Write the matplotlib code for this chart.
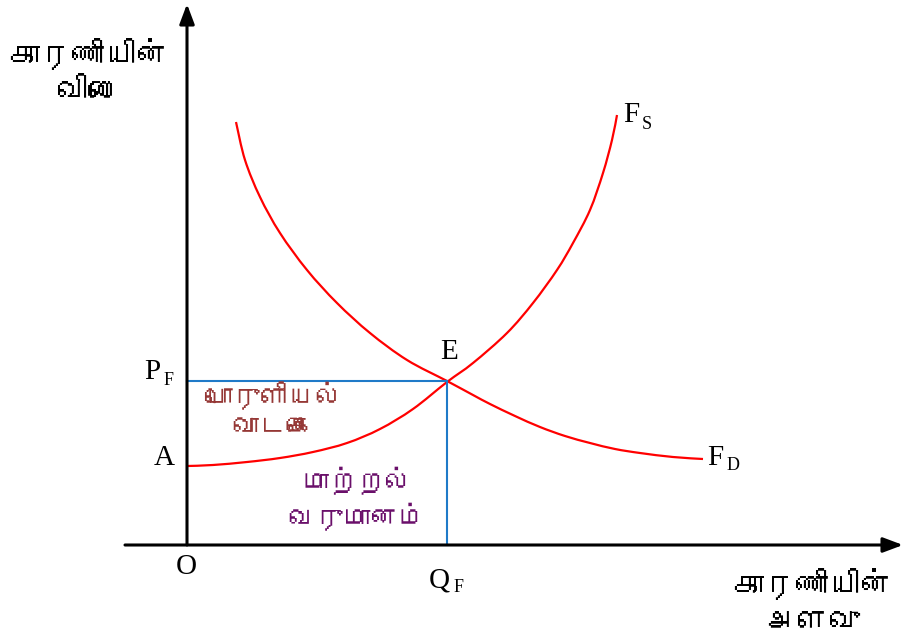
import matplotlib
matplotlib.use('Agg')
import matplotlib.pyplot as plt
from matplotlib import font_manager
from matplotlib.ft2font import FT2Font
from matplotlib.path import Path
from matplotlib.patches import PathPatch

# Factor market diagram (origin O = (0, 0))
supply_x = [0, 26, 60, 93, 126, 160, 193, 226, 260, 286, 320, 346, 370, 386, 403, 416, 425, 430]
supply_y = [79, 80, 83, 87, 93, 102, 116, 136, 163, 182, 212, 242, 275, 302, 335, 372, 405, 430]
demand_x = [49, 58, 73, 93, 120, 150, 183, 220, 260, 286, 303, 328, 353, 378, 403, 428, 453, 486, 516]
demand_y = [423, 385, 348, 312, 275, 242, 212, 185, 164, 150, 141, 129, 118, 109, 102, 96, 92, 88, 86]
eq_q, eq_p = 260, 164       # point E
a_price = 79                # point A

y_title = ['காரணியின்', 'விலை']
x_title = ['காரணியின்', 'அளவு']
rent_text = ['பொருளியல்', 'வாடகை']
transfer_text = ['மாற்றல்', 'வருமானம்']


def find_tamil_font():
    # pick any installed font that has Tamil glyphs
    for f in font_manager.fontManager.ttflist:
        try:
            if 0x0B95 in FT2Font(f.fname).get_charmap():
                return f.name
        except Exception:
            pass
    return 'DejaVu Sans'


def smooth_path(xs, ys):
    # smooth line through the read points (Catmull-Rom as cubic Bezier)
    pts = list(zip(xs, ys))
    verts = [pts[0]]
    codes = [Path.MOVETO]
    for i in range(len(pts) - 1):
        p0 = pts[max(i - 1, 0)]
        p1, p2 = pts[i], pts[i + 1]
        p3 = pts[min(i + 2, len(pts) - 1)]
        c1 = (p1[0] + (p2[0] - p0[0]) / 6, p1[1] + (p2[1] - p0[1]) / 6)
        c2 = (p2[0] - (p3[0] - p1[0]) / 6, p2[1] - (p3[1] - p1[1]) / 6)
        verts += [c1, c2, p2]
        codes += [Path.CURVE4] * 3
    return Path(verts, codes)


tamil = [find_tamil_font(), 'DejaVu Sans']
serif = 'Liberation Serif'

fig = plt.figure(figsize=(9.03, 6.44), dpi=100)
ax = fig.add_axes([0, 0, 1, 1])
ax.set_xlim(-187, 716)
ax.set_ylim(-99, 545)
ax.axis('off')

# axes with arrow heads
arrow = dict(arrowstyle='-|>,head_length=1.2,head_width=0.45', lw=2.2, color='black',
             shrinkA=0, shrinkB=0)
ax.annotate('', xy=(716, 0), xytext=(-62, 0), arrowprops=arrow)
ax.annotate('', xy=(0, 541), xytext=(0, 0), arrowprops=arrow)

# blue guide lines
ax.plot([0, eq_q], [eq_p, eq_p], color='#1f7ac8', lw=1.5)
ax.plot([eq_q, eq_q], [eq_p, 0], color='#1f7ac8', lw=1.5)

# supply and demand curves
for xs, ys in [(supply_x, supply_y), (demand_x, demand_y)]:
    ax.add_patch(PathPatch(smooth_path(xs, ys), fill=False, edgecolor='red', lw=1.6))

# letter labels
fs = 21
sub = 13
ax.text(-12, a_price + 8, 'A', fontsize=fs, family=serif, ha='right', va='center')
ax.text(-1, -22, 'O', fontsize=fs, family=serif, ha='center', va='center')
ax.text(-43, eq_p + 9, 'P', fontsize=fs, family=serif, ha='left', va='center')
ax.text(-23, eq_p + 1, 'F', fontsize=sub, family=serif, ha='left', va='center')
ax.text(242, -35, 'Q', fontsize=fs, family=serif, ha='left', va='center')
ax.text(267, -43, 'F', fontsize=sub, family=serif, ha='left', va='center')
ax.text(262, 193, 'E', fontsize=fs, family=serif, ha='center', va='center')
ax.text(436, 430, 'F', fontsize=fs, family=serif, ha='left', va='center')
ax.text(455, 421, 'S', fontsize=sub, family=serif, ha='left', va='center')
ax.text(520, 87, 'F', fontsize=fs, family=serif, ha='left', va='center')
ax.text(540, 80, 'D', fontsize=sub, family=serif, ha='left', va='center')

# Tamil texts
ax.text(-99, 474, y_title[0] + '\n' + y_title[1], fontsize=23, family=tamil,
        ha='center', va='center', linespacing=1.4)
ax.text(625, -56, x_title[0] + '\n' + x_title[1], fontsize=23, family=tamil,
        ha='center', va='center', linespacing=1.4)
ax.text(86, 135, rent_text[0] + '\n' + rent_text[1], fontsize=20, family=tamil,
        color='#953735', ha='center', va='center', linespacing=1.3)
ax.text(170, 46, transfer_text[0] + '\n' + transfer_text[1], fontsize=20, family=tamil,
        color='#6a0f6a', ha='center', va='center', linespacing=1.3)

fig.savefig('out.png', dpi=100)
